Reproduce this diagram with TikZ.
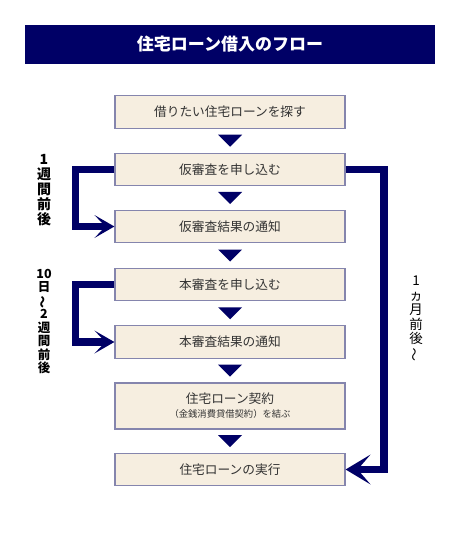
\documentclass[tikz,border=0pt]{standalone}
\usepackage{fontspec}
\usepackage{graphicx}
\newfontfamily\jp{Noto Sans CJK JP}
\usetikzlibrary{arrows.meta,calc}
\definecolor{navy}{HTML}{000066}
\definecolor{boxfill}{HTML}{F6EEE0}
\definecolor{boxline}{HTML}{8585AD}
\definecolor{txt}{HTML}{333333}
\begin{document}
\begin{tikzpicture}[x=1pt,y=-1pt,
  stepbox/.style={draw=boxline, line width=1.2pt, fill=boxfill, minimum width=230pt,
    minimum height=32.5pt, inner sep=0pt, text=txt, align=center,
    font=\jp\fontsize{12.7}{15}\selectfont},
  bracket/.style={draw=navy, line width=7.5pt, line join=miter},
  downtri/.style={fill=navy},
  lab/.style={text=black, align=center, inner sep=0pt}]
\useasboundingbox (0,0) rectangle (460,537);
\fill[white] (0,0) rectangle (460,537);

% title
\node[fill=navy, minimum width=410pt, minimum height=39pt, inner sep=0pt, text=white,
  font=\jp\bfseries\fontsize{17}{20}\selectfont] (title) at (230,44.5) {住宅ローン借入のフロー};

% steps
\node[stepbox] (b1) at (230,112) {借りたい住宅ローンを探す};
\node[stepbox] (b2) at (230,169.5) {仮審査を申し込む};
\node[stepbox] (b3) at (230,226.5) {仮審査結果の通知};
\node[stepbox] (b4) at (230,284.5) {本審査を申し込む};
\node[stepbox] (b5) at (230,342) {本審査結果の通知};
\node[stepbox, minimum height=46pt] (b6) at (230,406)
  {住宅ローン契約\\[-1pt]{\fontsize{9.3}{11}\selectfont （金銭消費貸借契約）を結ぶ}};
\node[stepbox] (b7) at (230,469.5) {住宅ローンの実行};

% down triangles
\foreach \a/\b in {b1/b2,b2/b3,b3/b4,b4/b5,b5/b6,b6/b7}
  \fill[downtri] ($(\a.south)!0.5!(\b.north)$) ++(-12,-6) -- ++(24,0) -- ++(-12,12) -- cycle;

% brackets
\draw[bracket, -{Stealth[length=20pt,width=23pt,inset=11pt,line width=0pt]}]
  (b2.west) -- ++(-39,0) |- (b3.west);
\draw[bracket, -{Stealth[length=20pt,width=23pt,inset=11pt,line width=0pt]}]
  (b4.west) -- ++(-39,0) |- (b5.west);
\draw[bracket, -{Stealth[length=25pt,width=30pt,inset=13pt,line width=0pt]}]
  (b2.east) -- ++(38.5,0) |- (b7.east);

% labels
\node[lab, anchor=north, font=\jp\bfseries\fontsize{14}{15}\selectfont] (l1) at (44,154)
  {1\\週\\間\\前\\後};
\node[lab, anchor=north, font=\jp\bfseries\fontsize{12.5}{13.5}\selectfont] (l2) at (44,269)
  {10\\日\\\rotatebox[origin=c]{90}{～}\\2\\週\\間\\前\\後};
\node[lab, anchor=north, font=\jp\fontsize{13.5}{14.5}\selectfont] (l3) at (416,276)
  {1\\ヵ\\月\\前\\後\\\rotatebox[origin=c]{90}{～}};
\end{tikzpicture}
\end{document}
